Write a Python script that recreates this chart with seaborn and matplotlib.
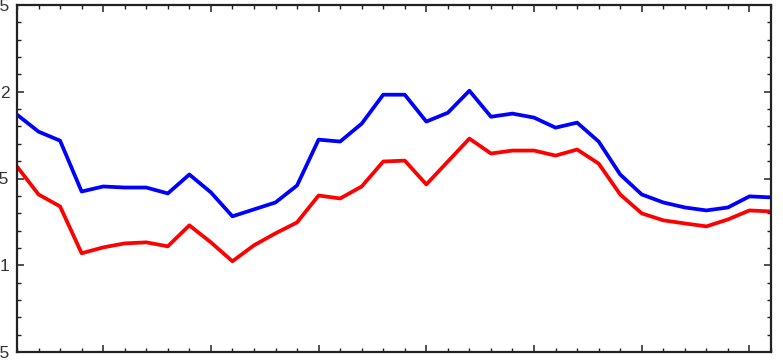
import numpy as np
import pandas as pd
import matplotlib
matplotlib.use("Agg")
import matplotlib.pyplot as plt
from matplotlib.ticker import MultipleLocator, FixedLocator
import seaborn as sns

years = list(range(1976, 2012))
blue_values = [1.868, 1.770, 1.718, 1.425, 1.454, 1.448, 1.448, 1.414, 1.523, 1.420,
               1.282, 1.322, 1.362, 1.460, 1.724, 1.713, 1.816, 1.983, 1.983, 1.828,
               1.879, 2.006, 1.856, 1.874, 1.851, 1.793, 1.822, 1.713, 1.523, 1.408,
               1.362, 1.333, 1.316, 1.333, 1.397, 1.391]
red_values = [1.569, 1.408, 1.339, 1.069, 1.103, 1.126, 1.132, 1.109, 1.230, 1.132,
              1.023, 1.115, 1.184, 1.247, 1.402, 1.385, 1.454, 1.598, 1.603, 1.466,
              1.598, 1.730, 1.644, 1.661, 1.661, 1.632, 1.667, 1.586, 1.408, 1.299,
              1.259, 1.241, 1.224, 1.264, 1.316, 1.310]
series_names = ["blue", "red"]
y_ticks = [0.5, 1.0, 1.5, 2.0, 2.5]
y_tick_labels = ["0.5", "1", "1.5", "2", "2.5"]

df = pd.DataFrame({
    "year": years * 2,
    "value": blue_values + red_values,
    "series": [series_names[0]] * len(years) + [series_names[1]] * len(years),
})

sns.set_style("white")
plt.rcParams["font.family"] = ["Liberation Sans", "DejaVu Sans"]
fig = plt.figure(figsize=(7.83, 3.6), dpi=100)
ax = fig.add_axes([17 / 783, 8 / 360, 754 / 783, 347 / 360])

sns.lineplot(data=df, x="year", y="value", hue="series",
             palette={"blue": "#0000ff", "red": "#ff0000"},
             linewidth=2.7, legend=False, ax=ax)

ax.set_xlim(years[0], years[-1])
ax.set_ylim(0.5, 2.5)
ax.set_xlabel("")
ax.set_ylabel("")

ax.xaxis.set_major_locator(FixedLocator([y for y in years if y % 5 == 0]))
ax.xaxis.set_minor_locator(MultipleLocator(1))
ax.set_yticks(y_ticks)
ax.set_yticklabels(y_tick_labels)
ax.yaxis.set_minor_locator(MultipleLocator(0.1))

ax.tick_params(which="both", direction="in", top=True, right=True,
               bottom=True, left=True, labelbottom=False, color="#222222")
ax.tick_params(which="major", length=5, width=1.1, labelsize=12.5,
               labelcolor="#333333", pad=5.5)
ax.tick_params(which="minor", length=3, width=1.0)
for s in ax.spines.values():
    s.set_visible(True)
    s.set_linewidth(1.6)
    s.set_color("#222222")

fig.savefig("out.png", dpi=100)
